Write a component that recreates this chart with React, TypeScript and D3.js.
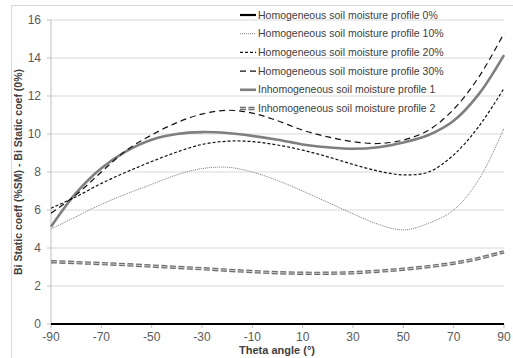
import * as d3 from "d3";

const angles = [-90, -80, -70, -60, -50, -40, -30, -20, -10, 0, 10, 20, 30, 40, 50, 60, 70, 80, 90];

const homog0 = [0, 0, 0, 0, 0, 0, 0, 0, 0, 0, 0, 0, 0, 0, 0, 0, 0, 0, 0];
const homog10 = [5.0, 5.65, 6.3, 6.85, 7.35, 7.85, 8.18, 8.25, 8.0, 7.55, 7.0, 6.4, 5.8, 5.25, 4.95, 5.3, 6.0, 7.6, 10.3];
const homog20 = [6.09, 6.7, 7.4, 8.0, 8.55, 9.05, 9.45, 9.62, 9.6, 9.42, 9.15, 8.8, 8.4, 8.05, 7.85, 8.0, 8.9, 10.4, 12.4];
const homog30 = [5.83, 6.8, 8.0, 9.15, 9.95, 10.6, 11.05, 11.25, 11.1, 10.7, 10.2, 9.85, 9.6, 9.5, 9.68, 10.2, 11.3, 13.0, 15.3];
const inhom1 = [5.12, 6.9, 8.2, 9.1, 9.7, 10.0, 10.1, 10.05, 9.9, 9.7, 9.45, 9.3, 9.22, 9.3, 9.55, 9.95, 10.7, 12.1, 14.15];
const inhom2 = [3.28, 3.23, 3.18, 3.12, 3.05, 2.98, 2.91, 2.83, 2.76, 2.7, 2.67, 2.67, 2.7, 2.78, 2.88, 3.02, 3.2, 3.45, 3.8];

const xTicks = [-90, -70, -50, -30, -10, 10, 30, 50, 70, 90];
const yTicks = [0, 2, 4, 6, 8, 10, 12, 14, 16];

const seriesNames = [
  "Homogeneous soil moisture profile 0%",
  "Homogeneous soil moisture profile 10%",
  "Homogeneous soil moisture profile 20%",
  "Homogeneous soil moisture profile 30%",
  "Inhomogeneous soil moisture profile 1",
  "Inhomogeneous soil moisture profile 2",
];

const seriesValues = [homog0, homog10, homog20, homog30, inhom1, inhom2];

type Style = { stroke: string; width: number; dash?: string; inner?: string };
const STYLES: Style[] = [
  { stroke: "#000", width: 2.2 },
  { stroke: "#7a7a7a", width: 1, dash: "1,1" },
  { stroke: "#111", width: 1.2, dash: "3,2" },
  { stroke: "#111", width: 1.2, dash: "6,4" },
  { stroke: "#7f7f7f", width: 2.6 },
  { stroke: "#6e6e6e", width: 3.4, dash: "6,2.5", inner: "#c8c8c8" },
];

const W = 513;
const H = 358;
const FONT = "'Liberation Sans', Arial, sans-serif";

export default function App() {
  const x = d3.scaleLinear().domain([-90, 90]).range([51, 504]);
  const y = d3.scaleLinear().domain([0, 16]).range([324, 20]);

  const line = d3
    .line<[number, number]>()
    .x((d) => x(d[0]))
    .y((d) => y(d[1]))
    .curve(d3.curveCatmullRom.alpha(0.5));

  // thick lines first, thin ones on top
  const order = [5, 4, 1, 2, 3, 0];

  return (
    <svg
      width={W}
      height={H}
      style={{ position: "absolute", left: 0, top: 0, background: "#fff" }}
      fontFamily={FONT}
    >
      <rect x={11.5} y={5.5} width={W + 10} height={H + 10} fill="#fff" stroke="#d9d9d9" />

      {yTicks.slice(1).map((t) => (
        <line key={t} x1={x(-90)} x2={x(90)} y1={y(t)} y2={y(t)} stroke="#d9d9d9" strokeWidth={1} />
      ))}

      <line x1={x(-90)} x2={x(-90)} y1={y(16)} y2={y(0)} stroke="#bfbfbf" />
      {yTicks.map((t) => (
        <line key={t} x1={x(-90) - 4} x2={x(-90)} y1={y(t)} y2={y(t)} stroke="#bfbfbf" />
      ))}
      <line x1={x(-90)} x2={x(90)} y1={y(0)} y2={y(0)} stroke="#bfbfbf" />
      {xTicks.map((t) => (
        <line key={t} x1={x(t)} x2={x(t)} y1={y(0)} y2={y(0) + 4} stroke="#bfbfbf" />
      ))}

      {yTicks.map((t) => (
        <text key={t} x={41} y={y(t)} dy="0.35em" textAnchor="end" fontSize={12} fill="#595959">
          {t}
        </text>
      ))}
      {xTicks.map((t) => (
        <text key={t} x={x(t)} y={341} textAnchor="middle" fontSize={12} fill="#595959">
          {t}
        </text>
      ))}

      <text x={277} y={354} textAnchor="middle" fontSize={11} fontWeight="bold" fill="#404040">
        Theta angle (°)
      </text>
      <text
        transform={`translate(22,${(y(0) + y(16)) / 2}) rotate(-90)`}
        textAnchor="middle"
        fontSize={10.5}
        fontWeight="bold"
        fill="#404040"
      >
        Bi Static coeff (%SM) - Bi Static coef (0%)
      </text>

      {order.map((i) => {
        const pts = angles.map((a, k) => [a, seriesValues[i][k]] as [number, number]);
        const s = STYLES[i];
        const d = line(pts) ?? "";
        return (
          <g key={i}>
            <path d={d} fill="none" stroke={s.stroke} strokeWidth={s.width} strokeDasharray={s.dash} />
            {s.inner && (
              <path d={d} fill="none" stroke={s.inner} strokeWidth={1} strokeDasharray={s.dash} />
            )}
          </g>
        );
      })}

      {seriesNames.map((name, i) => {
        const s = STYLES[i];
        const ly = 15 + i * 18.7;
        return (
          <g key={name}>
            <line x1={240} x2={256} y1={ly} y2={ly} stroke={s.stroke} strokeWidth={s.width} strokeDasharray={s.dash} />
            {s.inner && (
              <line x1={240} x2={256} y1={ly} y2={ly} stroke={s.inner} strokeWidth={1} strokeDasharray={s.dash} />
            )}
            <text x={258} y={ly} dy="0.35em" fontSize={10.5} fill="#404040">
              {name}
            </text>
          </g>
        );
      })}
    </svg>
  );
}
